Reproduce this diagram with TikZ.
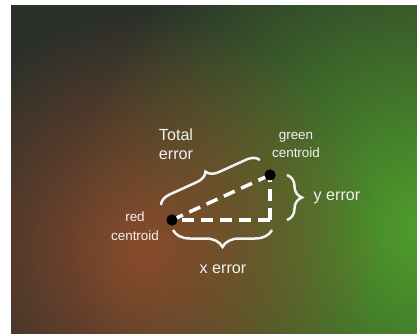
\documentclass[tikz,border=0pt]{standalone}
\usepackage{fontspec}
\setmainfont{Liberation Sans}
\usetikzlibrary{decorations.pathreplacing,fadings}
\definecolor{basedark}{HTML}{2B302A}
\definecolor{greenglow}{HTML}{50A02A}
\definecolor{redglow}{HTML}{8E4A2C}
\definecolor{txt}{HTML}{F2F2F2}
\tikzfading[name=glow, inner color=transparent!0, outer color=transparent!100]
\tikzset{
  dot/.style={circle, fill=black, inner sep=0pt, minimum size=11bp},
  dashline/.style={draw=white, line width=3.5bp, dash pattern=on 12bp off 7bp},
  bracestyle/.style={draw=txt, line width=2.5bp, decorate, decoration={brace, amplitude=#1}},
  biglabel/.style={text=txt, align=center, inner sep=0pt, font=\fontsize{16.2}{19}\selectfont},
  smalllabel/.style={text=txt, align=center, inner sep=0pt, font=\fontsize{13.5}{18.5}\selectfont}
}
\begin{document}
\begin{tikzpicture}[x=1bp,y=-1bp]
\useasboundingbox (0,0) rectangle (417,334);
\begin{scope}
  \clip (11,5) rectangle (417,334);
  \fill[basedark] (11,5) rectangle (417,334);
  \fill[greenglow, path fading=glow] (430,230) circle (360);
  \fill[redglow, path fading=glow, opacity=0.95] (145,250) circle (235);
\end{scope}
% points
\coordinate (c) at (270,220);
\node[dot] (r) at (172,220) {};
\node[dot] (g) at (270,175) {};
% dashed lines
\draw[dashline] (r.center) -- (g.center);
\draw[dashline] (c) -- (r.center);
\draw[dashline] (c) -- (g.center);
\node[dot] at (r.center) {};
\node[dot] at (g.center) {};
% braces
\coordinate (t1) at (161,205);
\coordinate (t2) at (260,160);
\draw[bracestyle=12bp] (t1) -- (t2);
\coordinate (y1) at (287,175);
\coordinate (y2) at (287,220);
\draw[bracestyle=15bp] (y1) -- (y2);
\coordinate (x1) at (272,230);
\coordinate (x2) at (173,230);
\draw[bracestyle=17bp] (x1) -- (x2);
% labels
\node[biglabel] (tot) at (176,144.5) {Total\\error};
\node[smalllabel] (gl) at (296,145) {green\\centroid};
\node[smalllabel] (rl) at (135,226) {red\\centroid};
\node[biglabel] (yl) at (337,198) {y error};
\node[biglabel] (xl) at (223,269) {x error};
\end{tikzpicture}
\end{document}
